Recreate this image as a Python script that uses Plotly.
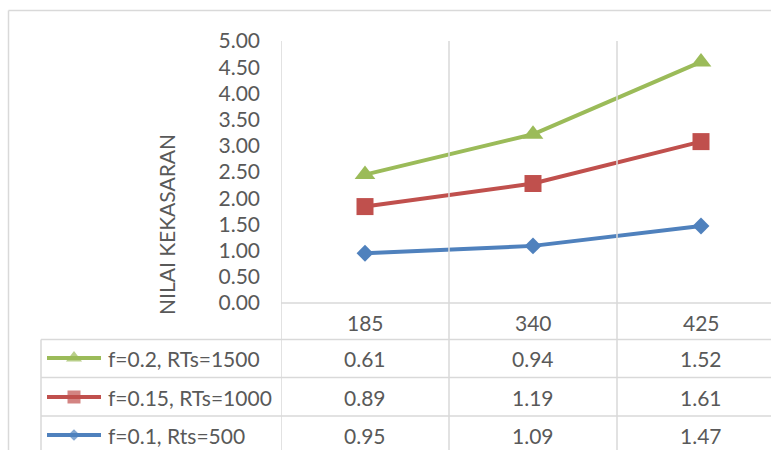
import numpy as np
import plotly.graph_objects as go

# ---- data -------------------------------------------------------------
categories = ["185", "340", "425"]
series_names = ["f=0.1, Rts=500", "f=0.15, RTs=1000", "f=0.2, RTs=1500"]
values_f01 = [0.95, 1.09, 1.47]
values_f015 = [0.89, 1.19, 1.61]
values_f02 = [0.61, 0.94, 1.52]
y_ticks = [0.0, 0.5, 1.0, 1.5, 2.0, 2.5, 3.0, 3.5, 4.0, 4.5, 5.0]
y_title = "NILAI KEKASARAN"

# ---- style ------------------------------------------------------------
colors = ["#4F81BD", "#C0504D", "#9BBB59"]
symbols = ["diamond", "square", "triangle-up"]
marker_sizes = [13, 17, 18]
legend_marker_sizes = [9, 13, 14]
FONT = "Lato"
TEXT = "#595959"
GRID = "#D9D9D9"
W, H = 771, 450


def px(x):
    return x / W


def py(y):
    return 1 - y / H


# stacked line chart: each series sits on top of the previous ones
raw = np.array([values_f01, values_f015, values_f02])
stacked = np.cumsum(raw, axis=0)
cat_idx = list(range(len(categories)))

fig = go.Figure()

for name, col, sym, ms, ys in zip(series_names, colors, symbols, marker_sizes, stacked):
    fig.add_trace(go.Scatter(
        x=cat_idx, y=ys, name=name, mode="lines+markers",
        line=dict(color=col, width=4),
        marker=dict(symbol=sym, size=ms, color=col, line=dict(width=0)),
        xaxis="x", yaxis="y", showlegend=False, hoverinfo="skip",
    ))

# ---- data table rows (top row = last series) ---------------------------
row_centers = [358, 397, 435]
legend_x0, legend_x1 = 47, 101
annotations = []
table_order = list(range(len(series_names)))[::-1]
for rc, i in zip(row_centers, table_order):
    fig.add_trace(go.Scatter(
        x=[legend_x0, (legend_x0 + legend_x1) / 2, legend_x1], y=[rc, rc, rc],
        mode="lines+markers",
        line=dict(color=colors[i], width=4),
        marker=dict(symbol=symbols[i], size=[0, legend_marker_sizes[i], 0],
                    color=colors[i], line=dict(width=0)),
        xaxis="x2", yaxis="y2", showlegend=False, hoverinfo="skip",
    ))
    annotations.append(dict(
        x=px(106), y=py(rc), xref="paper", yref="paper",
        text=series_names[i], showarrow=False, xanchor="left", yanchor="middle",
        font=dict(family=FONT, size=21, color=TEXT),
    ))
    for k, v in zip(cat_idx, raw[i]):
        annotations.append(dict(
            x=k, y=py(rc), xref="x", yref="paper",
            text=f"{v:.2f}", showarrow=False, xanchor="center", yanchor="middle",
            font=dict(family=FONT, size=21, color=TEXT),
        ))

# category header row
for k, cat in zip(cat_idx, categories):
    annotations.append(dict(
        x=k, y=py(322), xref="x", yref="paper",
        text=cat, showarrow=False, xanchor="center", yanchor="middle",
        font=dict(family=FONT, size=21, color=TEXT),
    ))

# axis title
annotations.append(dict(
    x=px(166), y=py(225), xref="paper", yref="paper",
    text=y_title, showarrow=False, textangle=-90,
    xanchor="center", yanchor="middle",
    font=dict(family=FONT, size=21, color=TEXT),
))

# ---- frame, grid and table lines ---------------------------------------
line_style = dict(color=GRID, width=1.5)
shapes = [
    # chart border
    dict(type="line", xref="paper", yref="paper", x0=px(8.5), x1=1, y0=py(10.5), y1=py(10.5), line=line_style),
    dict(type="line", xref="paper", yref="paper", x0=px(8.5), x1=px(8.5), y0=py(10.5), y1=0, line=line_style),
    # table header line and row separators
    dict(type="line", xref="paper", yref="paper", x0=px(281), x1=1, y0=py(303), y1=py(303), line=line_style),
    dict(type="line", xref="paper", yref="paper", x0=px(41), x1=px(41), y0=py(339.5), y1=0, line=line_style),
]
for yy in [339.5, 377.5, 416]:
    shapes.append(dict(type="line", xref="paper", yref="paper", x0=px(41), x1=1,
                       y0=py(yy), y1=py(yy), line=line_style))
for xb in [-0.5, 0.5, 1.5]:
    shapes.append(dict(type="line", xref="x", yref="paper", x0=xb, x1=xb,
                       y0=0, y1=py(41), line=line_style))

fig.update_layout(
    template="none",
    width=W, height=H, autosize=False,
    margin=dict(l=0, r=0, t=0, b=0, pad=0, autoexpand=False),
    paper_bgcolor="white", plot_bgcolor="rgba(0,0,0,0)",
    font=dict(family=FONT, color=TEXT),
    xaxis=dict(domain=[px(281), 1], range=[-0.5, -0.5 + (W - 281) / 168],
               type="linear", showgrid=False, showticklabels=False,
               zeroline=False, showline=False, ticks="", anchor="y",
               automargin=False),
    yaxis=dict(domain=[py(303), py(41)], range=[0, 5], tickvals=y_ticks,
               tickformat=".2f", showgrid=False, zeroline=False, showline=False,
               ticks="", ticklabelstandoff=20, automargin=False,
               tickfont=dict(family=FONT, size=21, color=TEXT), anchor="x"),
    xaxis2=dict(domain=[0, 1], range=[0, W], visible=False, anchor="y2",
                automargin=False),
    yaxis2=dict(domain=[0, 1], range=[H, 0], visible=False, anchor="x2",
                automargin=False),
    shapes=shapes,
    annotations=annotations,
    showlegend=False,
)

fig.write_html("out.html")
